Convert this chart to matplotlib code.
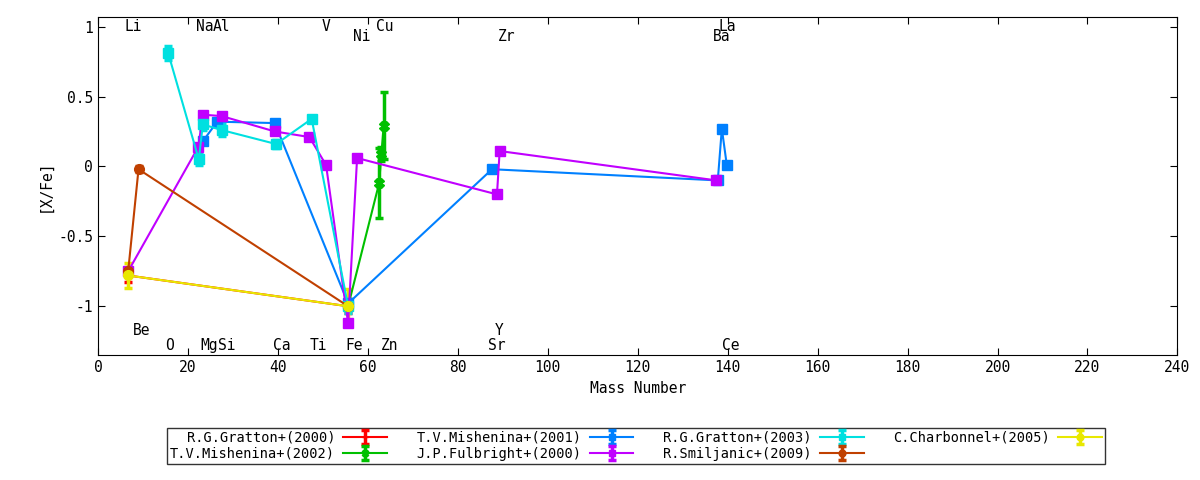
import matplotlib.pyplot as plt

plt.rcParams["font.family"] = ["DejaVu Sans Mono"]
plt.rcParams["font.size"] = 10.5

# series: x, y, yerr
g2000_x = [6.7, 55.6]
g2000_y = [-0.78, -1.0]
g2000_e = [0.05, 0.05]

m2001_x = [23.3, 26.5, 39.3, 55.6, 87.6, 137.8, 138.7, 139.8]
m2001_y = [0.18, 0.32, 0.31, -0.98, -0.02, -0.10, 0.27, 0.01]
m2001_e = [0.02, 0.02, 0.02, 0.02, 0.02, 0.02, 0.02, 0.02]

g2003_x = [15.6, 22.4, 23.3, 27.5, 39.6, 47.5, 55.6]
g2003_y = [0.81, 0.05, 0.30, 0.26, 0.16, 0.34, -1.0]
g2003_e = [0.05, 0.04, 0.04, 0.04, 0.03, 0.02, 0.05]

c2005_x = [6.7, 55.6]
c2005_y = [-0.78, -1.0]
c2005_e = [0.09, 0.12]

m2002_x = [55.6, 62.5, 63.0, 63.5]
m2002_y = [-1.0, -0.12, 0.09, 0.29]
m2002_e = [0.02, 0.25, 0.05, 0.24]

f2000_x = [6.7, 22.3, 23.3, 27.5, 39.3, 47.0, 50.7, 55.6, 57.6, 88.7, 89.3, 137.5]
f2000_y = [-0.75, 0.14, 0.37, 0.36, 0.25, 0.21, 0.01, -1.12, 0.06, -0.20, 0.11, -0.10]
f2000_e = [0.02] * 12

s2009_x = [6.7, 9.0, 55.6]
s2009_y = [-0.75, -0.02, -1.0]
s2009_e = [0.02, 0.02, 0.02]

elem_names = ["Li", "Na", "Al", "V", "Cu", "Ni", "Zr", "La", "Ba",
              "Be", "O", "Mg", "Si", "Ca", "Ti", "Fe", "Zn", "Y", "Sr", "Ce"]
elem_x = [7.8, 23.8, 27.5, 50.7, 63.8, 58.7, 90.9, 140.0, 138.7,
          9.6, 15.8, 24.7, 28.7, 40.9, 48.9, 56.9, 64.9, 89.1, 88.7, 140.7]
elem_y = [1.0, 1.0, 1.0, 1.0, 1.0, 0.93, 0.93, 1.0, 0.93,
          -1.17, -1.28, -1.28, -1.28, -1.28, -1.28, -1.28, -1.28, -1.17, -1.28, -1.28]

fig = plt.figure(figsize=(12, 4.8), dpi=100)
ax = fig.add_axes([0.0817, 0.26, 0.8995, 0.705])

series = [
    ("R.G.Gratton+(2000)", "#ff0000", "+", g2000_x, g2000_y, g2000_e),
    ("T.V.Mishenina+(2002)", "#00c000", "X", m2002_x, m2002_y, m2002_e),
    ("T.V.Mishenina+(2001)", "#0080ff", "s", m2001_x, m2001_y, m2001_e),
    ("J.P.Fulbright+(2000)", "#c000ff", "s", f2000_x, f2000_y, f2000_e),
    ("R.G.Gratton+(2003)", "#00e0e0", "s", g2003_x, g2003_y, g2003_e),
    ("R.Smiljanic+(2009)", "#c04000", "o", s2009_x, s2009_y, s2009_e),
    ("C.Charbonnel+(2005)", "#e8e800", "o", c2005_x, c2005_y, c2005_e),
]
handles = {}
for lab, col, mk, xs, ys, es in series:
    h = ax.errorbar(xs, ys, yerr=es, color=col, marker=mk, ms=7, lw=1.5,
                    elinewidth=2.5, capsize=3, capthick=2.5, label=lab)
    handles[lab] = h

for n, x, y in zip(elem_names, elem_x, elem_y):
    ax.text(x, y, n, ha="center", va="center", fontsize=10.5)

ax.set_xlim(0, 240)
ax.set_ylim(-1.35, 1.07)
ax.set_xticks(range(0, 241, 20))
ax.set_yticks([-1, -0.5, 0, 0.5, 1])
ax.set_yticklabels(["-1", "-0.5", "0", "0.5", "1"])
ax.tick_params(direction="in", top=True, right=True, length=5)
ax.set_xlabel("Mass Number")
ax.set_ylabel("[X/Fe]")

order = ["R.G.Gratton+(2000)", "T.V.Mishenina+(2002)", "T.V.Mishenina+(2001)",
         "J.P.Fulbright+(2000)", "R.G.Gratton+(2003)", "R.Smiljanic+(2009)",
         "C.Charbonnel+(2005)"]
leg = fig.legend([handles[k] for k in order], order, ncol=4, loc="center",
                 bbox_to_anchor=(0.53, 0.071), markerfirst=False, frameon=True,
                 fancybox=False, edgecolor="black", handlelength=3.2,
                 columnspacing=2.2, borderpad=0.2, labelspacing=0.15,
                 fontsize=9.8, markerscale=0.7, handletextpad=0.6)
leg.get_frame().set_linewidth(1)

fig.savefig("out.png")
